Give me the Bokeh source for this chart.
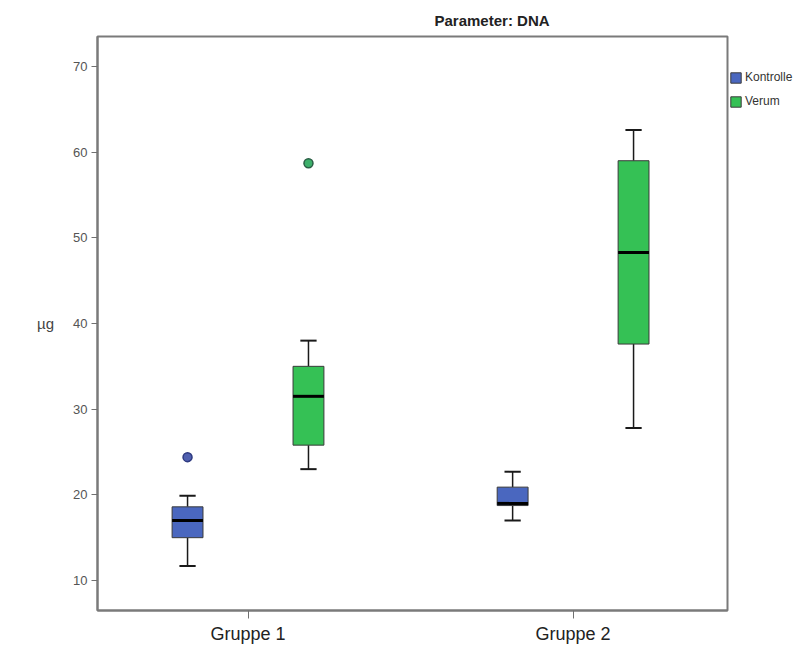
from bokeh.plotting import figure
from bokeh.models import (ColumnDataSource, FixedTicker, Legend, LegendItem, Range1d)
from bokeh.transform import dodge
from bokeh.embed import file_html
from bokeh.resources import INLINE

# ---- data ----
groups = ["Gruppe 1", "Gruppe 2"]
series = ["Kontrolle", "Verum"]

kontrolle_low = [11.7, 17.0]
kontrolle_q1 = [15.0, 18.75]
kontrolle_median = [17.0, 19.0]
kontrolle_q3 = [18.6, 20.9]
kontrolle_high = [19.9, 22.7]
kontrolle_outliers = [24.4, None]

verum_low = [23.0, 27.8]
verum_q1 = [25.8, 37.6]
verum_median = [31.5, 48.3]
verum_q3 = [35.0, 59.0]
verum_high = [38.0, 62.6]
verum_outliers = [58.7, None]

y_ticks = [10, 20, 30, 40, 50, 60, 70]

# ---- styling ----
colors = {"Kontrolle": "#4A67BF", "Verum": "#35C155"}
out_fill = {"Kontrolle": "#5060B0", "Verum": "#3DAF6A"}
out_line = {"Kontrolle": "#2E3A80", "Verum": "#2A5E45"}
offsets = {"Kontrolle": -0.186, "Verum": 0.186}
box_w = 0.095
cap_w = 0.05
FONT = "Liberation Sans"

p = figure(frame_width=630, frame_height=574, output_backend="svg", toolbar_location=None,
           x_range=Range1d(0.537, 2.475), y_range=Range1d(6.5, 73.5),
           min_border_left=97, min_border_right=82, min_border_top=36, min_border_bottom=39)

p.xgrid.visible = False
p.ygrid.visible = False
p.outline_line_color = "#7a7a7a"
p.outline_line_width = 2
p.background_fill_color = "white"
p.border_fill_color = "white"

xpos = [i + 1 for i in range(len(groups))]

data = {
    "Kontrolle": (kontrolle_low, kontrolle_q1, kontrolle_median, kontrolle_q3, kontrolle_high, kontrolle_outliers),
    "Verum": (verum_low, verum_q1, verum_median, verum_q3, verum_high, verum_outliers),
}

legend_items = []
for s in series:
    low, q1, med, q3, high, outl = data[s]
    src = ColumnDataSource(dict(x=xpos, low=low, q1=q1, med=med, q3=q3, high=high))
    off = offsets[s]
    # whiskers
    p.segment(x0=dodge("x", off, range=p.x_range), x1=dodge("x", off, range=p.x_range),
              y0="q3", y1="high", source=src, line_color="#1a1a1a", line_width=1.5)
    p.segment(x0=dodge("x", off, range=p.x_range), x1=dodge("x", off, range=p.x_range),
              y0="low", y1="q1", source=src, line_color="#1a1a1a", line_width=1.5)
    # caps
    p.segment(x0=dodge("x", off - cap_w / 2, range=p.x_range), x1=dodge("x", off + cap_w / 2, range=p.x_range),
              y0="high", y1="high", source=src, line_color="#1a1a1a", line_width=2)
    p.segment(x0=dodge("x", off - cap_w / 2, range=p.x_range), x1=dodge("x", off + cap_w / 2, range=p.x_range),
              y0="low", y1="low", source=src, line_color="#1a1a1a", line_width=2)
    # box
    r = p.vbar(x=dodge("x", off, range=p.x_range), width=box_w, top="q3", bottom="q1", source=src,
               fill_color=colors[s], line_color="#3a3a3a", line_width=1)
    # median
    p.segment(x0=dodge("x", off - box_w / 2, range=p.x_range), x1=dodge("x", off + box_w / 2, range=p.x_range),
              y0="med", y1="med", source=src, line_color="black", line_width=3)
    # outliers
    ox = [x for x, o in zip(xpos, outl) if o is not None]
    oy = [o for o in outl if o is not None]
    osrc = ColumnDataSource(dict(x=ox, y=oy))
    p.scatter(x=dodge("x", off, range=p.x_range), y="y", source=osrc, size=9,
              fill_color=out_fill[s], line_color=out_line[s], line_width=1.5)
    legend_items.append(LegendItem(label=s, renderers=[r]))

legend = Legend(items=legend_items, location=(2, 502), orientation="vertical",
                label_text_font=FONT, label_text_font_size="12px", label_text_color="#333333",
                glyph_width=13, glyph_height=13, label_standoff=3, spacing=10, padding=0,
                margin=0, border_line_color=None, background_fill_alpha=0, label_height=13)
p.add_layout(legend, "right")

# axes
xa = p.xaxis[0]
xa.ticker = FixedTicker(ticks=xpos)
xa.major_label_overrides = {x: g for x, g in zip(xpos, groups)}
xa.minor_tick_line_color = None
xa.major_tick_in = 0
xa.major_tick_out = 8
xa.major_tick_line_color = "#707070"
xa.axis_line_color = "#7a7a7a"
xa.axis_line_width = 2
xa.major_label_text_font = FONT
xa.major_label_text_font_size = "18px"
xa.major_label_text_color = "#222222"
xa.major_label_standoff = 5

ya = p.yaxis[0]
ya.ticker = FixedTicker(ticks=y_ticks)
ya.minor_tick_line_color = None
ya.major_tick_in = 0
ya.major_tick_out = 6
ya.major_tick_line_color = "#707070"
ya.axis_line_color = "#7a7a7a"
ya.axis_line_width = 2
ya.major_label_text_font = FONT
ya.major_label_text_font_size = "13px"
ya.major_label_text_color = "#555555"
ya.major_label_standoff = 4
ya.axis_label = "µg"
ya.axis_label_text_font = FONT
ya.axis_label_text_font_size = "15px"
ya.axis_label_text_font_style = "normal"
ya.axis_label_text_color = "#444444"
ya.axis_label_standoff = 16
if "axis_label_orientation" in ya.properties():
    ya.axis_label_orientation = "horizontal"

p.title.text = "Parameter: DNA"
p.title.text_font = FONT
p.title.text_font_size = "15px"
p.title.text_font_style = "bold"
p.title.text_color = "#222222"
p.title.align = "left"
p.title.offset = 337
p.title.standoff = 16

open("out.html", "w").write(file_html(p, INLINE))
